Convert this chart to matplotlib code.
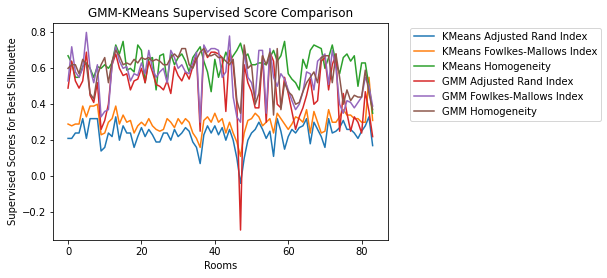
import numpy as np
import matplotlib
matplotlib.use("Agg")
import matplotlib.pyplot as plt

rooms = np.arange(84)

km_ari = [0.21, 0.21, 0.24, 0.24, 0.32, 0.21, 0.32, 0.32, 0.32, 0.14, 0.16, 0.24, 0.22,
          0.33, 0.20, 0.28, 0.24, 0.24, 0.16, 0.22, 0.27, 0.22, 0.26, 0.23, 0.19, 0.19,
          0.24, 0.24, 0.20, 0.26, 0.22, 0.24, 0.27, 0.25, 0.19, 0.16, 0.07, 0.23, 0.28,
          0.24, 0.28, 0.23, 0.27, 0.20, 0.26, 0.20, 0.10, -0.04, 0.10, 0.20, 0.24, 0.26,
          0.30, 0.26, 0.21, 0.25, 0.11, 0.32, 0.25, 0.15, 0.22, 0.26, 0.24, 0.27,
          0.28, 0.32, 0.18, 0.30, 0.26, 0.22, 0.16, 0.32, 0.24, 0.25, 0.27, 0.31,
          0.26, 0.26, 0.24, 0.21, 0.25, 0.28, 0.33, 0.17]

km_fm = [0.29, 0.28, 0.29, 0.29, 0.39, 0.33, 0.39, 0.39, 0.40, 0.23, 0.24, 0.30, 0.32,
         0.39, 0.29, 0.34, 0.30, 0.31, 0.24, 0.28, 0.30, 0.28, 0.32, 0.28, 0.26, 0.25,
         0.26, 0.32, 0.30, 0.27, 0.32, 0.29, 0.32, 0.30, 0.24, 0.21, 0.16, 0.31, 0.33,
         0.30, 0.35, 0.30, 0.32, 0.24, 0.30, 0.24, 0.19, 0.11, 0.24, 0.31, 0.32, 0.35,
         0.33, 0.28, 0.30, 0.32, 0.24, 0.35, 0.32, 0.29, 0.26, 0.29, 0.33, 0.32,
         0.30, 0.37, 0.24, 0.36, 0.30, 0.24, 0.25, 0.37, 0.30, 0.30, 0.33, 0.37,
         0.34, 0.34, 0.32, 0.32, 0.30, 0.30, 0.55, 0.31]

km_hom = [0.67, 0.63, 0.55, 0.55, 0.61, 0.63, 0.60, 0.55, 0.61, 0.60, 0.62, 0.60, 0.63,
          0.73, 0.68, 0.75, 0.59, 0.60, 0.58, 0.73, 0.70, 0.52, 0.65, 0.66, 0.48, 0.67,
          0.68, 0.52, 0.68, 0.62, 0.66, 0.68, 0.64, 0.58, 0.66, 0.69, 0.72, 0.64, 0.58,
          0.47, 0.65, 0.55, 0.62, 0.69, 0.64, 0.67, 0.70, 0.74, 0.66, 0.68, 0.62, 0.62,
          0.63, 0.63, 0.62, 0.66, 0.70, 0.64, 0.67, 0.75, 0.57, 0.54, 0.52, 0.48,
          0.65, 0.60, 0.70, 0.73, 0.72, 0.71, 0.60, 0.66, 0.73, 0.63, 0.57, 0.66,
          0.68, 0.64, 0.67, 0.50, 0.63, 0.63, 0.50, 0.35]

gmm_ari = [0.49, 0.64, 0.53, 0.49, 0.53, 0.69, 0.45, 0.41, 0.52, 0.26, 0.31, 0.40, 0.62,
           0.68, 0.60, 0.56, 0.57, 0.48, 0.53, 0.54, 0.60, 0.52, 0.64, 0.58, 0.51, 0.50,
           0.48, 0.53, 0.46, 0.61, 0.56, 0.53, 0.58, 0.54, 0.61, 0.67, 0.25, 0.71, 0.66,
           0.69, 0.69, 0.68, 0.66, 0.36, 0.70, 0.62, 0.40, -0.30, 0.62, 0.52, 0.47, 0.38,
           0.38, 0.67, 0.30, 0.69, 0.64, 0.40, 0.38, 0.55, 0.46, 0.36, 0.26, 0.33,
           0.38, 0.45, 0.54, 0.40, 0.42, 0.64, 0.66, 0.48, 0.62, 0.68, 0.25, 0.46,
           0.35, 0.25, 0.33, 0.30, 0.24, 0.47, 0.36, 0.22]

gmm_fm = [0.53, 0.72, 0.58, 0.55, 0.60, 0.80, 0.60, 0.52, 0.62, 0.33, 0.36, 0.37, 0.62,
          0.72, 0.64, 0.60, 0.61, 0.53, 0.57, 0.56, 0.63, 0.57, 0.70, 0.60, 0.55, 0.58,
          0.60, 0.52, 0.70, 0.66, 0.60, 0.62, 0.58, 0.57, 0.63, 0.69, 0.30, 0.73, 0.69,
          0.71, 0.71, 0.70, 0.55, 0.58, 0.78, 0.44, 0.33, 0.30, 0.70, 0.55, 0.52, 0.43,
          0.70, 0.70, 0.35, 0.71, 0.55, 0.50, 0.57, 0.54, 0.48, 0.42, 0.37, 0.40,
          0.47, 0.58, 0.57, 0.48, 0.64, 0.66, 0.68, 0.51, 0.70, 0.60, 0.40, 0.35,
          0.42, 0.41, 0.38, 0.41, 0.44, 0.55, 0.50, 0.39]

gmm_hom = [0.60, 0.62, 0.62, 0.57, 0.65, 0.62, 0.46, 0.43, 0.56, 0.62, 0.66, 0.52, 0.64,
           0.70, 0.67, 0.62, 0.63, 0.62, 0.65, 0.63, 0.66, 0.65, 0.66, 0.64, 0.65, 0.64,
           0.62, 0.62, 0.66, 0.68, 0.66, 0.71, 0.71, 0.62, 0.60, 0.65, 0.69, 0.71, 0.67,
           0.67, 0.68, 0.66, 0.66, 0.64, 0.62, 0.65, 0.42, 0.35, 0.73, 0.60, 0.62, 0.40,
           0.46, 0.67, 0.62, 0.69, 0.34, 0.71, 0.37, 0.52, 0.47, 0.45, 0.40, 0.41,
           0.47, 0.52, 0.55, 0.58, 0.52, 0.66, 0.67, 0.67, 0.52, 0.68, 0.55, 0.40,
           0.48, 0.42, 0.45, 0.44, 0.44, 0.59, 0.46, 0.37]

fig = plt.figure(figsize=(607 / 72, 278 / 72), dpi=72)
ax = fig.add_axes([0.087, 0.137, 0.552, 0.782])

ax.plot(rooms, km_ari, label="KMeans Adjusted Rand Index")
ax.plot(rooms, km_fm, label="KMeans Fowlkes-Mallows Index")
ax.plot(rooms, km_hom, label="KMeans Homogeneity")
ax.plot(rooms, gmm_ari, label="GMM Adjusted Rand Index")
ax.plot(rooms, gmm_fm, label="GMM Fowlkes-Mallows Index")
ax.plot(rooms, gmm_hom, label="GMM Homogeneity")

ax.set_title("GMM-KMeans Supervised Score Comparison")
ax.set_xlabel("Rooms")
ax.set_ylabel("Supervised Scores for Best Silhouette")
ax.legend(bbox_to_anchor=(1.05, 1), loc="upper left")

fig.savefig("out.png", dpi=72)
